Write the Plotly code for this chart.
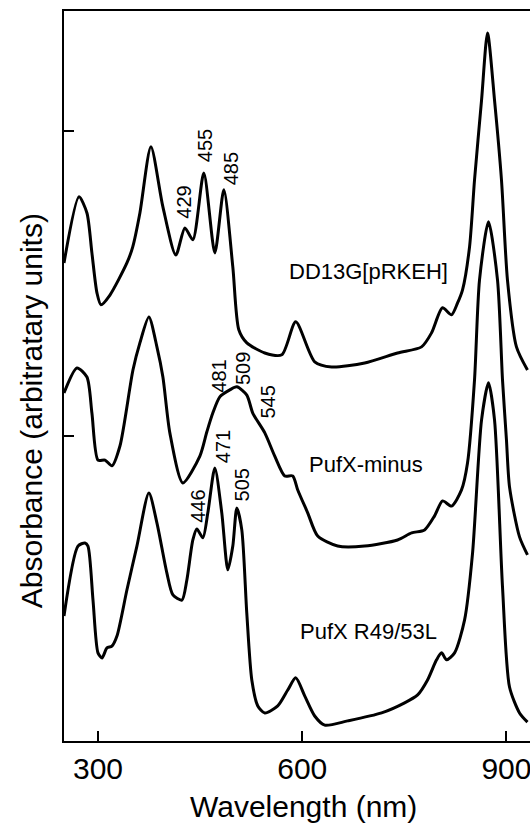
import plotly.graph_objects as go

# Wavelength (nm) and absorbance (arbitrary, vertically offset)
dd13g_nm = [250, 272, 283.7, 291, 298.4, 304.3, 317.5, 342.4, 351, 361.5, 377.7, 395.3, 414.3, 427.6,
            439.3, 455.4, 471.6, 484.8, 498, 506.8, 518.6, 545, 570, 590.4, 618.3, 643.3, 691.7, 740,
            775.3, 790, 806, 819.3, 828.2, 835.5, 845.8, 853.1, 863.4, 872.2, 882.5, 892.7, 901.5,
            914.7, 930.9]
dd13g_abs = [1.567, 1.784, 1.731, 1.6, 1.469, 1.43, 1.462, 1.567, 1.62, 1.731, 1.948, 1.751, 1.593,
             1.682, 1.643, 1.862, 1.6, 1.807, 1.554, 1.348, 1.305, 1.272, 1.266, 1.374, 1.243, 1.226,
             1.239, 1.272, 1.292, 1.338, 1.42, 1.397, 1.436, 1.479, 1.62, 1.839, 2.1, 2.321, 2.1,
             1.839, 1.511, 1.292, 1.216]

pufx_minus_nm = [250, 269, 283.7, 291, 299.9, 310.2, 320.4, 332.2, 351.3, 361.5, 374.7, 386.5, 395.3,
                 405.5, 424.6, 449.6, 459.8, 468.6, 478.9, 493.6, 503.9, 518.6, 527.3, 545, 559.6,
                 574.3, 586, 593.4, 608, 622.7, 652, 691.7, 740, 760.7, 779.7, 794.4, 806.2, 819.3,
                 834, 842.8, 853.1, 860.4, 873.6, 886.9, 894.2, 900, 904.5, 919.2, 930.9]
pufx_minus_abs = [1.141, 1.223, 1.193, 1.075, 0.921, 0.921, 0.902, 0.967, 1.216, 1.305, 1.39, 1.292,
                  1.193, 1.01, 0.846, 0.934, 1.013, 1.075, 1.128, 1.151, 1.161, 1.134, 1.075, 1.01,
                  0.934, 0.869, 0.869, 0.823, 0.748, 0.672, 0.639, 0.639, 0.659, 0.682, 0.692, 0.738,
                  0.787, 0.770, 0.823, 0.911, 1.184, 1.511, 1.702, 1.511, 1.184, 0.987, 0.833, 0.669,
                  0.61]

r49_nm = [250, 270.5, 280.8, 285.2, 292.6, 299.9, 305.8, 313.1, 320.4, 327.8, 342.4, 357.1, 374.7,
          386.5, 401.1, 410, 423.2, 430.5, 439.3, 445.2, 454, 461.3, 471.6, 481.8, 490.7, 498, 503.9,
          511.2, 518.5, 525.9, 534.7, 545, 564, 578.7, 590.4, 603.6, 618.3, 633, 666.7, 716.6, 750.4,
          769.5, 784.1, 797.3, 804.7, 812, 823.8, 838.5, 850.2, 863.4, 873.6, 882.5, 894.2, 904.5,
          919.2, 930.9]
r49_abs = [0.41, 0.639, 0.649, 0.639, 0.462, 0.289, 0.272, 0.305, 0.311, 0.344, 0.495, 0.639, 0.813,
           0.715, 0.551, 0.479, 0.462, 0.528, 0.659, 0.695, 0.666, 0.748, 0.895, 0.748, 0.561, 0.639,
           0.764, 0.692, 0.42, 0.2, 0.115, 0.092, 0.115, 0.167, 0.207, 0.148, 0.082, 0.052, 0.066,
           0.092, 0.125, 0.151, 0.2, 0.266, 0.289, 0.266, 0.289, 0.397, 0.616, 1.052, 1.174, 1.052,
           0.505, 0.177, 0.092, 0.062]

# Peak labels: (text, x position nm, y position)
peak_labels = ["429", "455", "485", "481", "509", "545", "446", "471", "505"]
peak_x = [426.9, 456.2, 495.8, 477.4, 513.4, 550.0, 447.4, 484.0, 512.0]
peak_y = [1.766, 1.951, 1.875, 1.197, 1.220, 1.110, 0.769, 0.964, 0.839]

# Strain names
strain_labels = ["DD13G[pRKEH]", "PufX-minus", "PufX R49/53L"]
strain_x = [697.6, 693.9, 697.6]
strain_y = [1.539, 0.905, 0.359]

x_ticks = [300, 600, 900]
y_ticks = [1, 2]

FONT = "Liberation Sans, Arial, sans-serif"

fig = go.Figure()
for xs, ys in [(dd13g_nm, dd13g_abs), (pufx_minus_nm, pufx_minus_abs), (r49_nm, r49_abs)]:
    fig.add_trace(go.Scatter(x=xs, y=ys, mode="lines",
                             line=dict(color="black", width=3, shape="spline", smoothing=0.7),
                             showlegend=False, hoverinfo="skip"))

annotations = []
for t, x, y in zip(peak_labels, peak_x, peak_y):
    annotations.append(dict(x=x, y=y, xref="x", yref="y", text=t, showarrow=False, textangle=-90,
                            font=dict(family=FONT, size=20, color="black"),
                            xanchor="center", yanchor="middle"))
for t, x, y in zip(strain_labels, strain_x, strain_y):
    annotations.append(dict(x=x, y=y, xref="x", yref="y", text=t, showarrow=False,
                            font=dict(family=FONT, size=22, color="black"),
                            xanchor="center", yanchor="middle"))
# Axis titles
annotations.append(dict(x=0.515, y=-0.090, xref="paper", yref="paper", text="Wavelength (nm)",
                        showarrow=False, font=dict(family=FONT, size=30, color="black"),
                        xanchor="center", yanchor="middle"))
annotations.append(dict(x=-0.071, y=0.453, xref="paper", yref="paper",
                        text="Absorbance (arbitratary units)", textangle=-90,
                        showarrow=False, font=dict(family=FONT, size=30, color="black"),
                        xanchor="center", yanchor="middle"))

fig.update_layout(
    width=530, height=826,
    margin=dict(l=64, r=0, t=11, b=85),
    paper_bgcolor="white", plot_bgcolor="white",
    font=dict(family=FONT, color="black"),
    annotations=annotations,
    xaxis=dict(range=[250, 934.6], tickmode="array", tickvals=x_ticks,
               ticktext=[str(v) for v in x_ticks],
               ticks="inside", ticklen=10, tickwidth=2, tickcolor="black",
               ticklabeloverflow="allow",
               showline=True, linewidth=2, linecolor="black", mirror=True,
               showgrid=False, zeroline=False,
               tickfont=dict(family=FONT, size=30, color="black")),
    yaxis=dict(range=[0, 2.393], tickmode="array", tickvals=y_ticks,
               showticklabels=False,
               ticks="inside", ticklen=10, tickwidth=2, tickcolor="black",
               showline=True, linewidth=2, linecolor="black",
               showgrid=False, zeroline=False),
)

# Remove the browser's default 8 px body margin so the 530x826 figure fills the window exactly.
fig.write_html("out.html",
               config={"displayModeBar": False},
               post_script="document.body.style.margin='0';document.body.style.overflow='hidden';")
